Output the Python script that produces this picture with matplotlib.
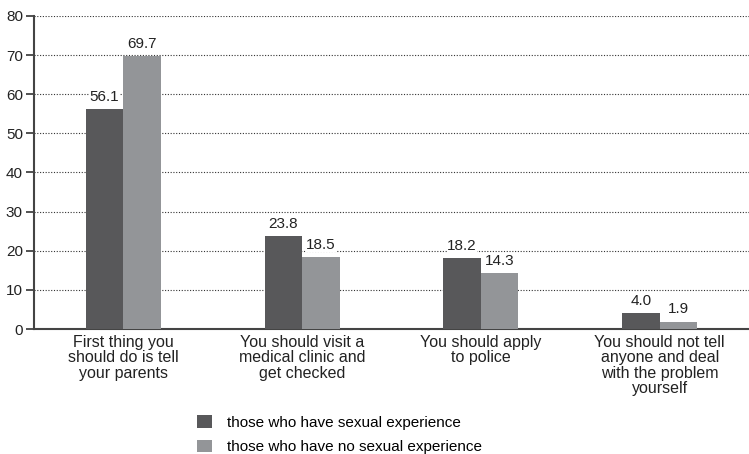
import matplotlib
matplotlib.use("Agg")
import matplotlib.pyplot as plt
import numpy as np

categories = ["First thing you\nshould do is tell\nyour parents",
              "You should visit a\nmedical clinic and\nget checked",
              "You should apply\nto police",
              "You should not tell\nanyone and deal\nwith the problem\nyourself"]
series_names = ["those who have sexual experience", "those who have no sexual experience"]
with_exp = [56.1, 23.8, 18.2, 4.0]
without_exp = [69.7, 18.5, 14.3, 1.9]
yticks = [0, 10, 20, 30, 40, 50, 60, 70, 80]

plt.rcParams['font.family'] = ['Liberation Sans', 'DejaVu Sans']
fig = plt.figure(figsize=(7.49, 4.54), dpi=100)
ax = fig.add_axes([0.0454, 0.2753, 0.9546, 0.6895])

x = np.arange(len(categories))
w = 0.21
c1, c2 = "#58585a", "#939598"
b1 = ax.bar(x - w/2, with_exp, w, color=c1, label=series_names[0], zorder=3)
b2 = ax.bar(x + w/2, without_exp, w, color=c2, label=series_names[1], zorder=3)
for bars, vals in ((b1, with_exp), (b2, without_exp)):
    for r, v in zip(bars, vals):
        ax.text(r.get_x() + r.get_width()/2, v + 1.3, f"{v:.1f}", ha="center", va="bottom",
                fontsize=11, color="#222222", zorder=4,
                bbox=dict(facecolor="white", edgecolor="none", pad=0.3))

ax.set_xlim(-0.5, len(categories) - 0.5)
ax.set_ylim(0, 80)
ax.set_yticks(yticks)
ax.yaxis.grid(True, linestyle=(0, (1, 1.5)), color="#333333", linewidth=0.8, zorder=0)
ax.set_axisbelow(True)
ax.set_xticks(x)
ax.set_xticklabels(categories, fontsize=11.5, color="#222222", linespacing=1.05)
ax.tick_params(axis="x", length=0, pad=4)
ax.tick_params(axis="y", length=6, width=1.2, color="#333333", labelsize=11, labelcolor="#222222", pad=2)
for s in ("top", "right"):
    ax.spines[s].set_visible(False)
for s in ("left", "bottom"):
    ax.spines[s].set_color("#444444")
    ax.spines[s].set_linewidth(1.5)

fig.legend(handles=[b1, b2], labels=series_names, loc="upper left",
           bbox_to_anchor=(0.263, 0.085), frameon=False, fontsize=11,
           handlelength=0.95, handleheight=0.85, handletextpad=1.0, labelspacing=0.65,
           borderpad=0, borderaxespad=0)

fig.savefig("out.png", dpi=100)
